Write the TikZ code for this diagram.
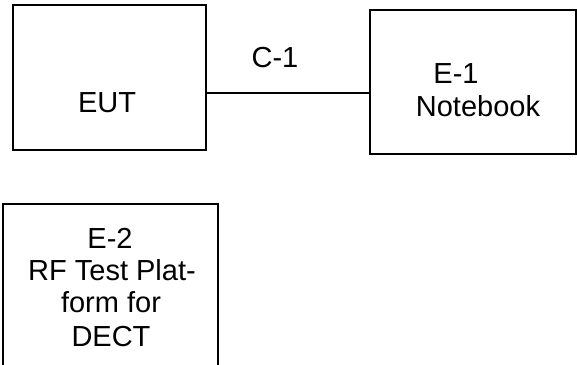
\documentclass[tikz,border=0pt]{standalone}
\usepackage{fontspec}
\setmainfont{Liberation Sans}
\begin{document}
\begin{tikzpicture}[x=1pt,y=-1pt,
  box/.style={draw=black,line width=1.5pt,rectangle,inner sep=0pt},
  txt/.style={font=\fontsize{29}{33.3}\selectfont,inner sep=0pt},
  wire/.style={draw=black,line width=1.5pt}]
\useasboundingbox (0,0) rectangle (577,364);
\node[box,minimum width=193pt,minimum height=145pt] (eut) at (109.5,77.5) {};
\node[box,minimum width=206pt,minimum height=144pt] (nb) at (473,82) {};
\node[box,minimum width=215pt,minimum height=172pt] (e2) at (110.5,290) {};
\node[txt,anchor=base] (teut) at (107,112) {EUT};
\node[txt,anchor=base] (tc1) at (275,67) {C-1};
\node[txt,anchor=base] (te1) at (456,83) {E-1};
\node[txt,anchor=base] (tnb) at (478,116) {Notebook};
\node[txt,anchor=base] (te2a) at (110,248) {E-2};
\node[txt,anchor=base] (te2b) at (112,280) {RF Test Plat-};
\node[txt,anchor=base] (te2c) at (111,312) {form for};
\node[txt,anchor=base] (te2d) at (111,346) {DECT};
\coordinate (lc) at (0,93);
\draw[wire] (eut.east |- lc) -- (nb.west |- lc);
\end{tikzpicture}
\end{document}
